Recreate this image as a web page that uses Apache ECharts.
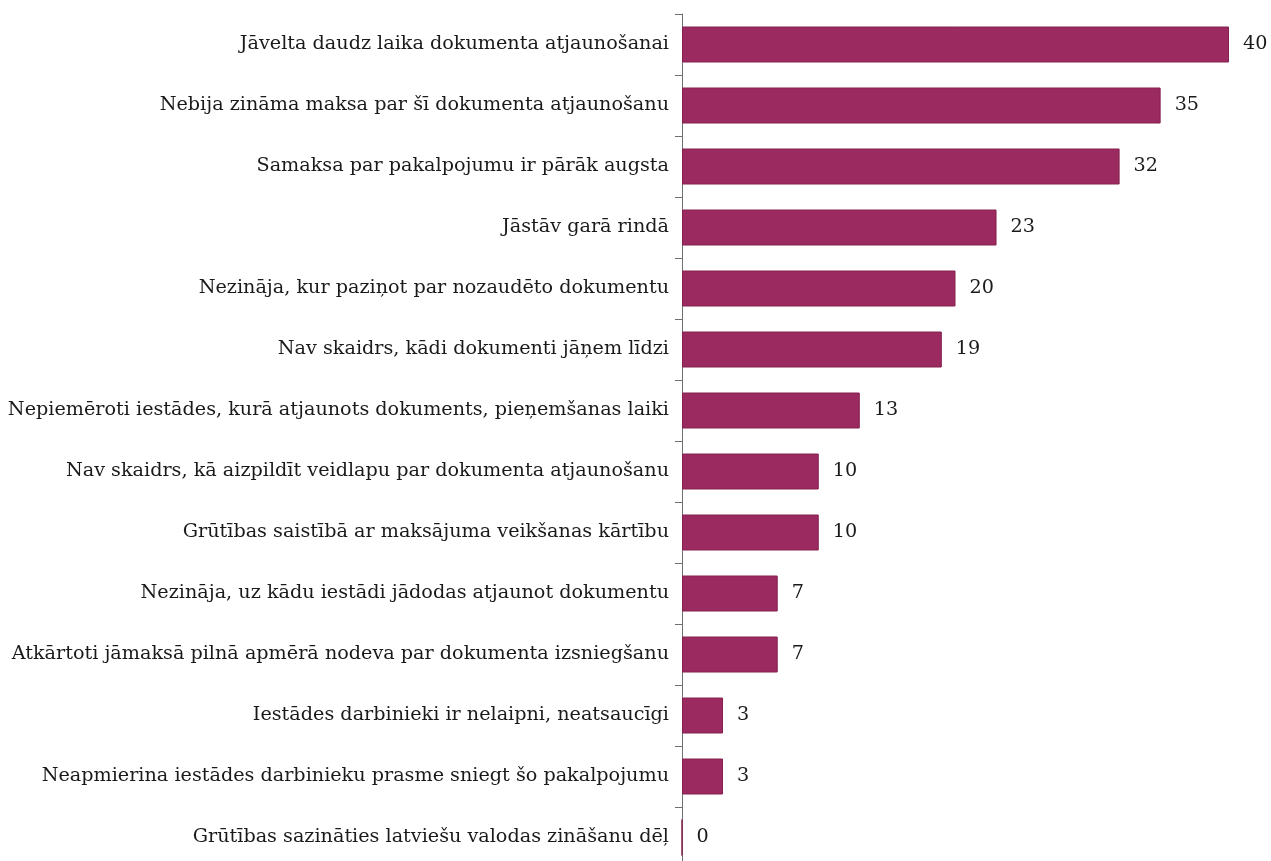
<!DOCTYPE html>
<html>
<head>
<meta charset="utf-8">
<script src="https://cdn.jsdelivr.net/npm/echarts@6/dist/echarts.min.js"></script>
<style>
  html, body { margin: 0; padding: 0; background: #ffffff; }
  #chart { width: 1271px; height: 861px; }
</style>
</head>
<body>
<div id="chart"></div>
<script>
// Reasons given for difficulties when renewing a document (respondent share)
const categories = [
  'Jāvelta daudz laika dokumenta atjaunošanai',
  'Nebija zināma maksa par šī dokumenta atjaunošanu',
  'Samaksa par pakalpojumu ir pārāk augsta',
  'Jāstāv garā rindā',
  'Nezināja, kur paziņot par nozaudēto dokumentu',
  'Nav skaidrs, kādi dokumenti jāņem līdzi',
  'Nepiemēroti iestādes, kurā atjaunots dokuments, pieņemšanas laiki',
  'Nav skaidrs, kā aizpildīt veidlapu par dokumenta atjaunošanu',
  'Grūtības saistībā ar maksājuma veikšanas kārtību',
  'Nezināja, uz kādu iestādi jādodas atjaunot dokumentu',
  'Atkārtoti jāmaksā pilnā apmērā nodeva par dokumenta izsniegšanu',
  'Iestādes darbinieki ir nelaipni, neatsaucīgi',
  'Neapmierina iestādes darbinieku prasme sniegt šo pakalpojumu',
  'Grūtības sazināties latviešu valodas zināšanu dēļ'
];
const values = [40, 35, 32, 23, 20, 19, 13, 10, 10, 7, 7, 3, 3, 0];

const textFont = 'DejaVu Serif';
const chart = echarts.init(document.getElementById('chart'), null, { renderer: 'canvas' });

chart.setOption({
  backgroundColor: '#ffffff',
  animation: false,
  grid: {
    left: 682, top: 14, width: 547, height: 854,
    containLabel: false,
    outerBoundsMode: 'none'
  },
  xAxis: {
    type: 'value',
    min: 0,
    max: 40,
    show: false
  },
  yAxis: {
    type: 'category',
    data: categories,
    inverse: true,
    axisLine: { show: true, lineStyle: { color: '#6f6f6f', width: 1 } },
    axisTick: { show: true, length: 7, lineStyle: { color: '#6f6f6f', width: 1 } },
    axisLabel: {
      margin: 13,
      color: '#1a1a1a',
      fontFamily: textFont,
      fontSize: 19.2
    },
    splitLine: { show: false }
  },
  series: [{
    type: 'bar',
    data: values,
    barWidth: 36,
    itemStyle: { color: '#9b2a60', borderColor: '#85204f', borderWidth: 1 },
    label: {
      show: true,
      position: 'right',
      distance: 14,
      color: '#1a1a1a',
      fontFamily: textFont,
      fontSize: 19.2
    }
  }]
});
</script>
</body>
</html>
